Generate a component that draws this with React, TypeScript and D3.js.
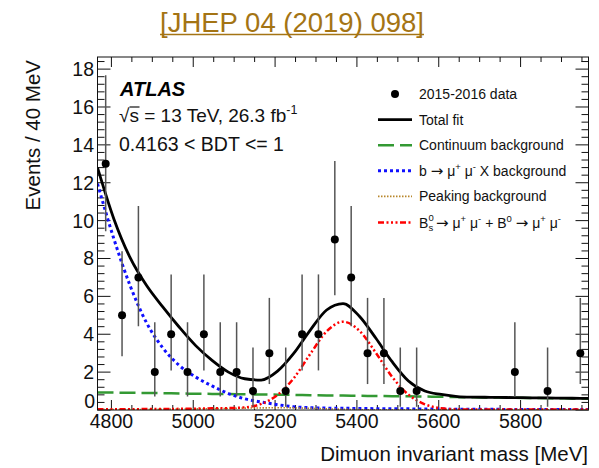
import React from 'react';
import * as d3 from 'd3';

const W = 599;
const H = 468;

// Data: 40 MeV bins
const binCenters = [4786, 4826, 4866, 4906, 4946, 4986, 5026, 5066, 5106, 5146, 5186, 5226, 5266, 5306, 5346, 5386, 5426, 5466, 5506, 5546, 5586, 5626, 5666, 5706, 5746, 5786, 5826, 5866, 5906, 5946];
const counts = [13, 5, 7, 2, 4, 2, 4, 2, 2, 1, 3, 1, 4, 4, 9, 7, 3, 3, 1, 1, 0, 0, 0, 0, 0, 2, 0, 1, 0, 3];
const errLow = [3.56, 2.16, 2.58, 1.29, 1.91, 1.29, 1.91, 1.29, 1.29, 0.83, 1.63, 0.83, 1.91, 1.91, 2.94, 2.58, 1.63, 1.63, 0.83, 0.83, 0, 0, 0, 0, 0, 1.29, 0, 0.83, 0, 1.63];
const errHigh = [4.67, 3.38, 3.77, 2.64, 3.16, 2.64, 3.16, 2.64, 2.64, 2.3, 2.92, 2.3, 3.16, 3.16, 4.15, 3.77, 2.92, 2.92, 2.3, 2.3, 0, 0, 0, 0, 0, 2.64, 0, 2.3, 0, 2.92];

// Fit curves sampled in mass
const fitMass = [4766, 4806, 4846, 4886, 4926, 4966, 5006, 5046, 5086, 5126, 5166, 5206, 5246, 5286, 5326, 5366, 5406, 5446, 5486, 5526, 5566, 5606, 5646, 5686, 5726, 5766, 5806, 5846, 5886, 5926, 5966];
const totalFit = [12.8, 10.09, 8.03, 6.57, 5.43, 4.37, 3.4, 2.62, 2.0, 1.65, 1.58, 2.05, 3.0, 4.22, 5.28, 5.62, 4.95, 3.8, 2.55, 1.53, 1.0, 0.82, 0.71, 0.68, 0.67, 0.66, 0.65, 0.64, 0.63, 0.62, 0.61];
const continuumBkg = [0.93, 0.92, 0.91, 0.9, 0.89, 0.87, 0.86, 0.85, 0.84, 0.83, 0.82, 0.81, 0.8, 0.78, 0.77, 0.76, 0.75, 0.74, 0.73, 0.72, 0.71, 0.7, 0.68, 0.67, 0.66, 0.65, 0.64, 0.63, 0.62, 0.61, 0.6];
const bmumuXBkg = [11.95, 9.04, 6.55, 4.6, 3.27, 2.35, 1.74, 1.27, 0.87, 0.59, 0.42, 0.28, 0.17, 0.12, 0.1, 0.09, 0.08, 0.07, 0.06, 0.06, 0.05, 0.05, 0.04, 0.04, 0.04, 0.03, 0.03, 0.03, 0.03, 0.03, 0.03];
const peakingBkg = [0.02, 0.02, 0.03, 0.03, 0.04, 0.05, 0.06, 0.07, 0.08, 0.1, 0.11, 0.12, 0.11, 0.09, 0.06, 0.04, 0.02, 0.01, 0.01, 0.01, 0.01, 0.01, 0.01, 0.01, 0.01, 0.01, 0.01, 0.01, 0.01, 0.01, 0.01];
const signalFit = [0.04, 0.04, 0.04, 0.05, 0.05, 0.06, 0.07, 0.09, 0.1, 0.14, 0.32, 0.8, 1.69, 2.96, 4.15, 4.66, 4.19, 3.03, 1.75, 0.81, 0.3, 0.09, 0.03, 0.02, 0.02, 0.02, 0.02, 0.02, 0.02, 0.02, 0.02];

const xTicks = [4800, 5000, 5200, 5400, 5600, 5800];
const yTicks = [0, 2, 4, 6, 8, 10, 12, 14, 16, 18];

const FONT = "'Liberation Sans', Arial, Helvetica, sans-serif";

type Seg = { t: string; sup?: boolean; arrow?: boolean };

function RichText({ x, y, segs, size, supSize, shift }: { x: number; y: number; segs: Seg[]; size: number; supSize: number; shift: number }) {
  let prevSup = false;
  return (
    <text x={x} y={y} fontSize={size} fontFamily={FONT} fill="#111">
      {segs.map((s, i) => {
        const sup = !!s.sup;
        let dy = 0;
        if (sup && !prevSup) dy = -shift;
        if (!sup && prevSup) dy = shift;
        prevSup = sup;
        return (
          <tspan
            key={i}
            dy={dy}
            fontSize={sup ? supSize : s.arrow ? 15 : size}
            fontFamily={s.arrow ? "'DejaVu Sans', sans-serif" : undefined}
          >
            {s.t}
          </tspan>
        );
      })}
    </text>
  );
}

export default function App() {
  const x = d3.scaleLinear().domain([4766, 5966]).range([97.5, 588.5]);
  const y = d3.scaleLinear().domain([0, 18.64]).range([410, 57]);
  const [x0, x1] = x.range();
  const [yb, yt] = y.range();

  const mkLine = (vals: number[]) =>
    d3
      .line<number>()
      .x((_, i) => x(fitMass[i]))
      .y((d) => y(d))
      .curve(d3.curveMonotoneX)(vals) || '';

  const xMinor = d3.range(4800, 5966, 50).filter((v) => v % 200 !== 0);
  const yMinor = d3.range(0, 18.64, 0.4).filter((v) => Math.abs(v / 2 - Math.round(v / 2)) > 1e-6);

  const legendX1 = 378;
  const legendX2 = 412;
  const legendTX = 419;
  const rows = [94, 119.6, 145.2, 170.8, 196.4, 222.5];

  return (
    <svg
      width={W}
      height={H}
      style={{ position: 'absolute', left: 0, top: 0, background: '#fff' }}
      fontFamily={FONT}
    >
      <rect x={0} y={0} width={W} height={H} fill="#fff" />
      {/* heading */}
      <text x={292} y={31.5} textAnchor="middle" fontSize={27.5} fill="#a47414" fontFamily={FONT}>
        [JHEP 04 (2019) 098]
      </text>
      <line x1={160} x2={424} y1={34.5} y2={34.5} stroke="#a47414" strokeWidth={1.5} />

      <defs>
        <clipPath id="plotclip">
          <rect x={x0} y={yt} width={x1 - x0} height={yb - yt} />
        </clipPath>
      </defs>

      {/* ticks */}
      <g stroke="#111" strokeWidth={1}>
        {xTicks.map((v) => (
          <g key={'xt' + v}>
            <line x1={x(v)} x2={x(v)} y1={yb} y2={yb - 10} />
            <line x1={x(v)} x2={x(v)} y1={yt} y2={yt + 10} />
          </g>
        ))}
        {xMinor.map((v) => (
          <g key={'xm' + v}>
            <line x1={x(v)} x2={x(v)} y1={yb} y2={yb - 5} />
            <line x1={x(v)} x2={x(v)} y1={yt} y2={yt + 5} />
          </g>
        ))}
        {yTicks.map((v) => (
          <g key={'yt' + v}>
            <line x1={x0} x2={x0 + 13} y1={y(v)} y2={y(v)} />
            <line x1={x1} x2={x1 - 13} y1={y(v)} y2={y(v)} />
          </g>
        ))}
        {yMinor.map((v) => (
          <g key={'ym' + v.toFixed(1)}>
            <line x1={x0} x2={x0 + 7} y1={y(v)} y2={y(v)} />
            <line x1={x1} x2={x1 - 7} y1={y(v)} y2={y(v)} />
          </g>
        ))}
      </g>

      {/* curves */}
      <g clipPath="url(#plotclip)" fill="none">
        <path d={mkLine(continuumBkg)} stroke="#339933" strokeWidth={2.5} strokeDasharray="16 6" />
        <path d={mkLine(bmumuXBkg)} stroke="#1010ff" strokeWidth={3} strokeDasharray="3 3" />
        <path d={mkLine(peakingBkg)} stroke="#b8862b" strokeWidth={1.6} strokeDasharray="1.5 1.5" />
        <path d={mkLine(signalFit)} stroke="#ff0000" strokeWidth={2.5} strokeDasharray="6 2.5 2 2.5 2 2.5 2 2.5" />
        <path d={mkLine(totalFit)} stroke="#000" strokeWidth={2.8} />
      </g>

      {/* data */}
      <g clipPath="url(#plotclip)">
        {binCenters.map((m, i) =>
          counts[i] > 0 ? (
            <g key={'d' + i}>
              <line
                x1={x(m)}
                x2={x(m)}
                y1={y(counts[i] - errLow[i])}
                y2={y(counts[i] + errHigh[i])}
                stroke="#555"
                strokeWidth={1.5}
              />
              <circle cx={x(m)} cy={y(counts[i])} r={4} fill="#000" />
            </g>
          ) : null
        )}
      </g>

      {/* frame */}
      <rect x={x0} y={yt} width={x1 - x0} height={yb - yt} fill="none" stroke="#111" strokeWidth={1} />

      {/* tick labels */}
      <g fontSize={19.5} fill="#111">
        {xTicks.map((v) => (
          <text key={'xl' + v} x={x(v)} y={428} textAnchor="middle">
            {v}
          </text>
        ))}
        {yTicks.map((v) => (
          <text key={'yl' + v} x={v === 0 ? 95 : 94} y={y(v) + (v === 0 ? -2 : 7)} textAnchor="end">
            {v}
          </text>
        ))}
      </g>

      {/* axis titles */}
      <text x={588} y={461} textAnchor="end" fontSize={20.5} fill="#111">
        Dimuon invariant mass [MeV]
      </text>
      <text transform="translate(40,60) rotate(-90)" textAnchor="end" fontSize={20.5} fill="#111">
        Events / 40 MeV
      </text>

      {/* ATLAS labels */}
      <text x={120} y={96} fontSize={20} fontWeight="bold" fontStyle="italic" fill="#000">
        ATLAS
      </text>
      <text x={119} y={122} fontSize={19} fill="#111">
        √s = 13 TeV, 26.3 fb
        <tspan dy={-8} fontSize={12.5}>
          -1
        </tspan>
      </text>
      <line x1={129.5} x2={139.5} y1={107} y2={107} stroke="#111" strokeWidth={1.2} />
      <text x={119} y={151} fontSize={19.5} fill="#111">
        0.4163 &lt; BDT &lt;= 1
      </text>

      {/* legend */}
      <circle cx={395} cy={rows[0]} r={4} fill="#000" />
      <text x={legendTX} y={rows[0] + 5} fontSize={14} fill="#111">2015-2016 data</text>

      <line x1={legendX1} x2={legendX2} y1={rows[1]} y2={rows[1]} stroke="#000" strokeWidth={2.8} />
      <text x={legendTX} y={rows[1] + 5} fontSize={14} fill="#111">Total fit</text>

      <line x1={legendX1} x2={legendX2} y1={rows[2]} y2={rows[2]} stroke="#339933" strokeWidth={2.5} strokeDasharray="16 6" />
      <text x={legendTX} y={rows[2] + 5} fontSize={14} fill="#111">Continuum background</text>

      <line x1={legendX1} x2={legendX2} y1={rows[3]} y2={rows[3]} stroke="#1010ff" strokeWidth={3} strokeDasharray="3 3" />
      <RichText
        x={legendTX}
        y={rows[3] + 5}
        size={14}
        supSize={9.5}
        shift={6}
        segs={[{ t: 'b ' }, { t: '→', arrow: true }, { t: ' μ' }, { t: '+', sup: true }, { t: ' μ' }, { t: '-', sup: true }, { t: ' X background' }]}
      />

      <line x1={legendX1} x2={legendX2} y1={rows[4]} y2={rows[4]} stroke="#b8862b" strokeWidth={1.6} strokeDasharray="1.5 1.5" />
      <text x={legendTX} y={rows[4] + 5} fontSize={14} fill="#111">Peaking background</text>

      <line x1={legendX1} x2={legendX2} y1={rows[5]} y2={rows[5]} stroke="#ff0000" strokeWidth={2.5} strokeDasharray="6 2.5 2 2.5 2 2.5 2 2.5" />
      <text x={legendTX} y={rows[5] + 5} fontSize={14} fill="#111">B</text>
      <text x={legendTX + 9.6} y={rows[5] + 8.5} fontSize={9.5} fill="#111">s</text>
      <text x={legendTX + 9.6} y={rows[5] - 2} fontSize={9.5} fill="#111">0</text>
      <RichText
        x={legendTX + 17}
        y={rows[5] + 5}
        size={14}
        supSize={9.5}
        shift={6}
        segs={[
          { t: '→', arrow: true },
          { t: ' μ' },
          { t: '+', sup: true },
          { t: ' μ' },
          { t: '-', sup: true },
          { t: ' + B' },
          { t: '0', sup: true },
          { t: ' ' },
          { t: '→', arrow: true },
          { t: ' μ' },
          { t: '+', sup: true },
          { t: ' μ' },
          { t: '-', sup: true },
        ]}
      />
    </svg>
  );
}
